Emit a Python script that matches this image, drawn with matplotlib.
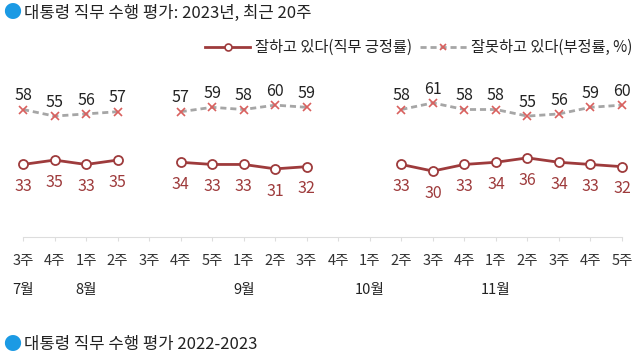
import numpy as np
import matplotlib.pyplot as plt

plt.rcParams['font.family'] = ['Noto Sans CJK KR', 'DejaVu Sans']

# 주차 라벨 (최근 20주)
weeks = ['3주', '4주', '1주', '2주', '3주', '4주', '5주', '1주', '2주', '3주',
         '4주', '1주', '2주', '3주', '4주', '1주', '2주', '3주', '4주', '5주']
months = {0: '7월', 2: '8월', 7: '9월', 11: '10월', 15: '11월'}

# 긍정률 / 부정률 (조사 없는 주는 nan)
pos = [33, 35, 33, 35, np.nan, 34, 33, 33, 31, 32, np.nan, np.nan,
       33, 30, 33, 34, 36, 34, 33, 32]
neg = [58, 55, 56, 57, np.nan, 57, 59, 58, 60, 59, np.nan, np.nan,
       58, 61, 58, 58, 55, 56, 59, 60]

pos_col = '#9e3b3c'
neg_col = '#d9605e'
gray = '#a6a6a6'

fig = plt.figure(figsize=(6.4, 3.6), dpi=100)
ax = fig.add_axes([23/640, 1-237/360, (622-23)/640, (237-75)/360])

x = np.arange(len(weeks))
ax.plot(x, pos, color=pos_col, lw=2, marker='o', ms=6.5,
        mfc='white', mec=pos_col, mew=1.3, clip_on=False)
ax.plot(x, neg, color=gray, lw=2, ls=(0, (2.2, 1.4)), marker='x', ms=5.5,
        mec=neg_col, mew=1.2, clip_on=False)

for i in range(len(weeks)):
    if not np.isnan(pos[i]):
        ax.annotate(f'{pos[i]:.0f}', (x[i], pos[i]), xytext=(0, -16),
                    textcoords='offset points', ha='center', va='center',
                    fontsize=11.5, color=pos_col)
    if not np.isnan(neg[i]):
        ax.annotate(f'{neg[i]:.0f}', (x[i], neg[i]), xytext=(0, 10),
                    textcoords='offset points', ha='center', va='center',
                    fontsize=11.5, color='#222222')

ax.set_xlim(0, 19)
ax.set_ylim(0, 73.7)
ax.set_yticks([])
ax.set_xticks(x)
ax.set_xticklabels(weeks, fontsize=10.5, color='#333333')
ax.tick_params(axis='x', length=3, color='#dddddd', pad=9)
for s in ['top', 'right', 'left']:
    ax.spines[s].set_visible(False)
ax.spines['bottom'].set_color('#dddddd')

for i, m in months.items():
    fig.text((23 + i*(599/19))/640, 1-290/360, m, ha='center', va='center',
             fontsize=10.5, color='#222222')

# 제목
fig.text(12/640, 1-13/360, '●', color='#1b9ae4', fontsize=13, ha='center', va='center')
fig.text(24/640, 1-13/360, '대통령 직무 수행 평가: 2023년, 최근 20주',
         fontsize=12, ha='left', va='center', color='#222222')
fig.text(12/640, 1-345/360, '●', color='#1b9ae4', fontsize=13, ha='center', va='center')
fig.text(24/640, 1-345/360, '대통령 직무 수행 평가 2022-2023',
         fontsize=12, ha='left', va='center', color='#222222')

# 범례
ly = 1-47/360
fig.lines.append(plt.Line2D([205/640, 250/640], [ly, ly], color=pos_col, lw=2,
                            transform=fig.transFigure))
fig.lines.append(plt.Line2D([228/640], [ly], marker='o', ms=5, mfc='white',
                            mec=pos_col, mew=1.2, transform=fig.transFigure))
fig.text(255/640, ly, '잘하고 있다(직무 긍정률)', fontsize=11, ha='left', va='center',
         color='#222222')
fig.lines.append(plt.Line2D([420/640, 467/640], [ly, ly], color=gray, lw=2,
                            ls=(0, (2.2, 1.4)), transform=fig.transFigure))
fig.lines.append(plt.Line2D([443/640], [ly], marker='x', ms=5, mec=neg_col,
                            mew=1.2, transform=fig.transFigure))
fig.text(471/640, ly, '잘못하고 있다(부정률, %)', fontsize=11, ha='left', va='center',
         color='#222222')

fig.savefig('out.png', dpi=100)
